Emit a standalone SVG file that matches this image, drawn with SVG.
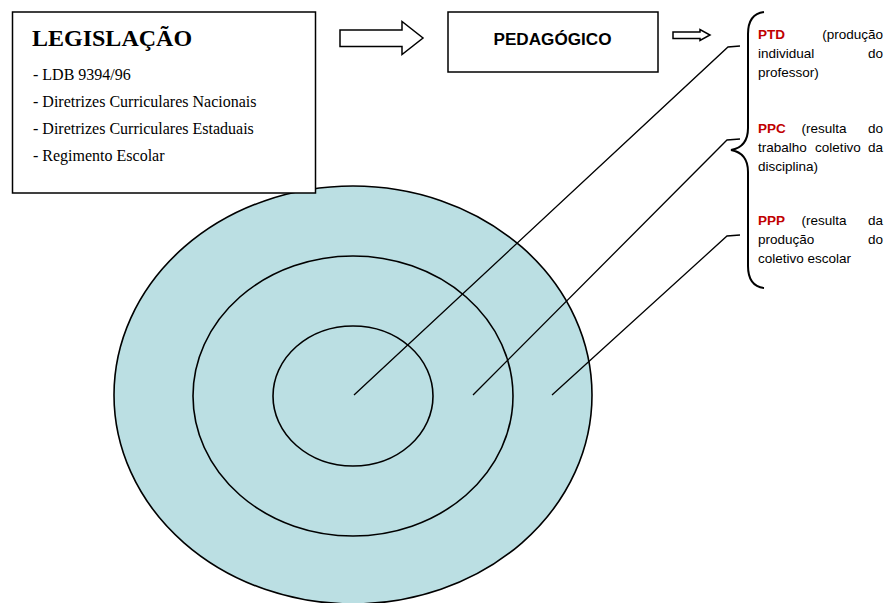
<svg xmlns="http://www.w3.org/2000/svg" width="885" height="603" viewBox="0 0 885 603">
<style>
.bg{fill:#ffffff}
.ring{fill:#bbdfe3;stroke:#000;stroke-width:1.6}
.ringn{fill:none;stroke:#000;stroke-width:1.6}
.box{fill:#fff;stroke:#000;stroke-width:1.5}
.arrow{fill:#fff;stroke:#000;stroke-width:1.5;stroke-linejoin:miter}
.conn{fill:none;stroke:#000;stroke-width:1.3}
.brace{fill:none;stroke:#000;stroke-width:2}
.ser{font-family:"Liberation Serif","Times New Roman",serif;fill:#000}
.sans{font-family:"Liberation Sans",Arial,sans-serif;fill:#000}
.t{font-size:13.5px}
.red{fill:#c00000;font-weight:bold}
</style>
<rect class="bg" x="0" y="0" width="885" height="603"/>
<g id="target">
<ellipse class="ring" cx="353" cy="395" rx="239" ry="209"/>
<ellipse class="ringn" cx="353" cy="396" rx="160" ry="140"/>
<ellipse class="ringn" cx="353" cy="396" rx="80" ry="70"/>
</g>
<g id="legislacao">
<rect class="box" x="12.5" y="12" width="303" height="181"/>
<text class="ser" x="32" y="46" font-size="24" font-weight="bold">LEGISLAÇÃO</text>
<text class="ser" x="33" y="80" font-size="16">- LDB 9394/96</text>
<text class="ser" x="33" y="107" font-size="16">- Diretrizes Curriculares Nacionais</text>
<text class="ser" x="33" y="134" font-size="16">- Diretrizes Curriculares Estaduais</text>
<text class="ser" x="33" y="161" font-size="16">- Regimento Escolar</text>
</g>
<g id="pedagogico">
<rect class="box" x="448" y="12" width="210" height="60"/>
<text class="sans" x="552.5" y="45" font-size="16" font-weight="bold" text-anchor="middle" textLength="118" lengthAdjust="spacingAndGlyphs">PEDAGÓGICO</text>
</g>
<g id="arrows">
<polygon class="arrow" points="340,30 402,30 402,21.5 423,38 402,54.5 402,46.5 340,46.5"/>
<polygon class="arrow" points="673,32 700,32 700,29.5 710,35 700,40.5 700,38.5 673,38.5"/>
</g>
<g id="connectors">
<polyline class="conn" points="354,395 728,47 740,46"/>
<polyline class="conn" points="473,395 727,140 740,139"/>
<polyline class="conn" points="552,395 727,236 740,235"/>
</g>
<g id="brace">
<path class="brace" d="M764,12 Q748,14 748,34 L748,128 Q748,147 731,150 Q748,153 748,172 L748,266 Q748,286 764,288"/>
</g>
<g id="ptd">
<text class="sans t" x="758" y="39"><tspan class="red">PTD</tspan></text>
<text class="sans t" x="883" y="39" text-anchor="end">(produção</text>
<text class="sans t" x="758" y="58">individual</text>
<text class="sans t" x="883" y="58" text-anchor="end">do</text>
<text class="sans t" x="758" y="77">professor)</text>
</g>
<g id="ppc">
<text class="sans t" x="758" y="133"><tspan class="red">PPC</tspan></text>
<text class="sans t" x="824" y="133" text-anchor="middle">(resulta</text>
<text class="sans t" x="883" y="133" text-anchor="end">do</text>
<text class="sans t" x="758" y="152">trabalho</text>
<text class="sans t" x="838" y="152" text-anchor="middle">coletivo</text>
<text class="sans t" x="883" y="152" text-anchor="end">da</text>
<text class="sans t" x="758" y="171">disciplina)</text>
</g>
<g id="ppp">
<text class="sans t" x="758" y="225"><tspan class="red">PPP</tspan></text>
<text class="sans t" x="824" y="225" text-anchor="middle">(resulta</text>
<text class="sans t" x="883" y="225" text-anchor="end">da</text>
<text class="sans t" x="758" y="244">produção</text>
<text class="sans t" x="883" y="244" text-anchor="end">do</text>
<text class="sans t" x="758" y="263">coletivo escolar</text>
</g>
</svg>
